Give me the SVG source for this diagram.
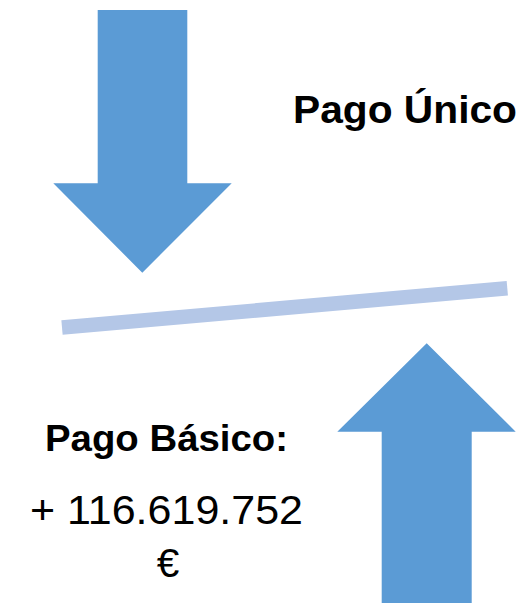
<svg xmlns="http://www.w3.org/2000/svg" width="523" height="603" viewBox="0 0 523 603">
  <style>
    .arrow { fill: #5B9BD5; }
    .bold { font-family: "Liberation Sans", Arial, sans-serif; font-weight: bold; fill: #000; }
    .reg { font-family: "Liberation Sans", Arial, sans-serif; fill: #000; }
  </style>
  <rect width="523" height="603" fill="#FFFFFF"/>
  <g id="arrow-down">
    <polygon class="arrow" points="97.7,10 187.3,10 187.3,183.3 231.7,183.3 142.3,272.7 53.3,183.3 97.7,183.3"/>
  </g>
  <g id="arrow-up">
    <polygon class="arrow" points="426.7,343.3 515.7,431.7 471.7,431.7 471.7,603 381.7,603 381.7,431.7 337.3,431.7"/>
  </g>
  <g id="connectors">
    <line x1="62" y1="327.5" x2="507.3" y2="288.3" stroke="#B4C7E7" stroke-width="14.5"/>
  </g>
  <g id="label-pago-unico">
    <text class="bold" x="293" y="122.7" font-size="38" textLength="224" lengthAdjust="spacingAndGlyphs">Pago Único</text>
  </g>
  <g id="label-pago-basico">
    <text class="bold" x="45" y="450.7" font-size="36" textLength="243" lengthAdjust="spacingAndGlyphs">Pago Básico:</text>
    <text class="reg" x="30" y="524" font-size="40.5" textLength="273" lengthAdjust="spacingAndGlyphs">+ 116.619.752</text>
    <text class="reg" x="168" y="577.3" font-size="40.5" text-anchor="middle">€</text>
  </g>
</svg>
